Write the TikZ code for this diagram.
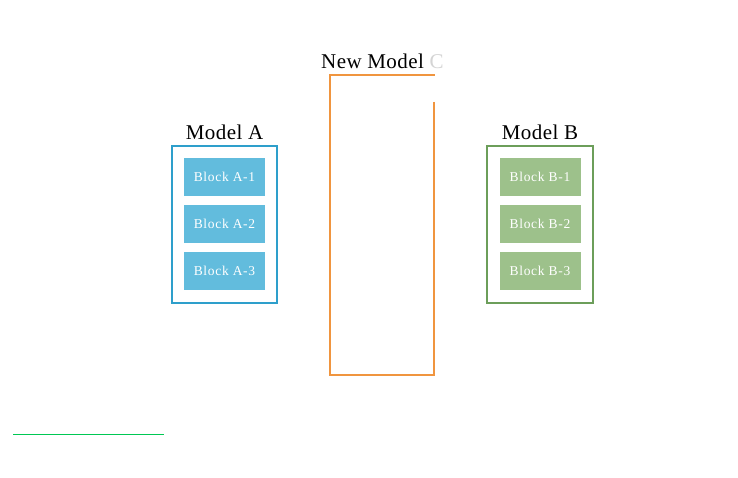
\documentclass[tikz,border=0pt]{standalone}
\usepackage{fontspec}
\setmainfont{Liberation Serif}
\newfontfamily\blkfont[LetterSpace=5]{Liberation Serif}
\newfontfamily\ttlfont[LetterSpace=2]{Liberation Serif}
\definecolor{ablue}{HTML}{2E9FCB}
\definecolor{afill}{HTML}{62BCDD}
\definecolor{bgreen}{HTML}{6C9E5A}
\definecolor{bfill}{HTML}{9DC18B}
\definecolor{corange}{HTML}{F0953F}
\definecolor{cfade}{HTML}{D4D4D4}
\definecolor{lgreen}{HTML}{00C853}
\begin{document}
\begin{tikzpicture}[x=1pt,y=-1pt,
  title/.style={font=\ttlfont\fontsize{21}{21}\selectfont, inner sep=0pt, anchor=base},
  blk/.style={minimum width=81pt, minimum height=38pt, inner sep=0pt, text=white, font=\blkfont\fontsize{13.5}{14}\selectfont},
  ablk/.style={blk, fill=afill},
  bblk/.style={blk, fill=bfill},
  frame/.style={line width=2pt}]
\useasboundingbox (0,0) rectangle (738,478);
\fill[white] (0,0) rectangle (738,478);
% Model A
\node[title] (ta) at (224.5,140) {Model A};
\draw[frame, ablue] (172,146) rectangle (277,303);
\node[ablk] (a1) at (224.5,177) {Block A-1};
\node[ablk] (a2) at (224.5,224) {Block A-2};
\node[ablk] (a3) at (224.5,271) {Block A-3};
% Model B
\node[title] (tb) at (540,140) {Model B};
\draw[frame, bgreen] (487,146) rectangle (593,303);
\node[bblk] (b1) at (540,177) {Block B-1};
\node[bblk] (b2) at (540,224) {Block B-2};
\node[bblk] (b3) at (540,271) {Block B-3};
% New Model C
\node[title, anchor=base west] (tc) at (321,69) {New Model \textcolor{cfade}{C}};
\draw[frame, corange] (434,102) -- (434,375) -- (330,375) -- (330,75) -- (435,75);
% green line
\draw[line width=1pt, lgreen] (13,434) -- (164,434);
\end{tikzpicture}
\end{document}
